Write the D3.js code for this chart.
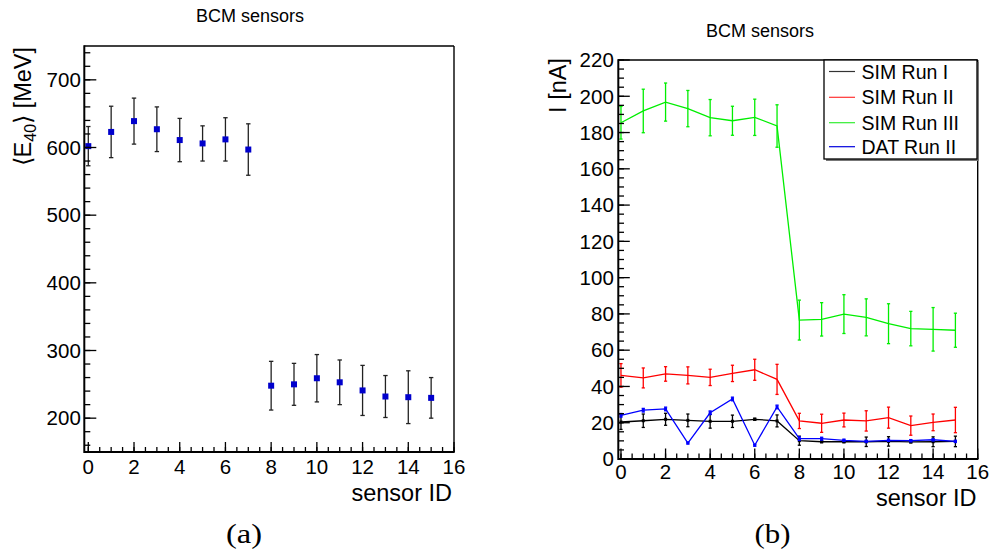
<!DOCTYPE html>
<html>
<head>
<meta charset="utf-8">
<script src="https://cdn.jsdelivr.net/npm/d3@7"></script>
<style>
  html, body { margin: 0; padding: 0; background: #fff; }
  svg text { font-family: "Liberation Sans", Arial, Helvetica, sans-serif; fill: #000; }
</style>
</head>
<body>
<svg id="chart" width="989" height="558"></svg>
<script>
// ---------------- data ----------------
const sensorIds = [0, 1, 2, 3, 4, 5, 6, 7, 8, 9, 10, 11, 12, 13, 14, 15];

// panel (a): mean energy <E40> [MeV]
const energyMean = [602, 623, 639, 627, 611, 606, 612, 597, 248, 250, 259, 253, 241, 232, 231, 230];
const energyErr  = [29, 38, 34, 33, 32, 26, 32, 38, 36, 31, 35, 33, 37, 31, 39, 30];

// panel (b): current I [nA]
const simRun1    = [20.4, 21.1, 21.9, 21.3, 20.8, 20.8, 21.9, 21.0, 10.1, 9.5, 9.5, 9.5, 9.7, 9.4, 9.5, 9.7];
const simRun1Err = [4.1, 3.7, 3.3, 3.5, 3.8, 3.4, 0.6, 3.3, 2.5, 0.5, 0.5, 2.6, 2.6, 0.5, 2.7, 2.9];
const simRun2    = [46.1, 44.7, 46.9, 46.1, 45.0, 47.2, 49.2, 43.9, 21.0, 19.7, 21.5, 21.0, 22.8, 18.4, 20.2, 21.5];
const simRun2Err = [6.5, 5.5, 4.0, 4.7, 4.5, 4.5, 5.8, 8.3, 4.2, 5.0, 3.8, 5.6, 5.8, 5.3, 4.6, 7.0];
const simRun3    = [185.4, 191.9, 196.8, 193.2, 188.2, 186.5, 188.4, 183.6, 76.6, 77.0, 79.9, 78.1, 74.6, 71.9, 71.5, 71.0];
const simRun3Err = [9.0, 12.0, 10.5, 10.0, 10.0, 8.0, 10.0, 11.7, 11.0, 9.2, 10.7, 10.2, 11.0, 9.5, 12.0, 9.4];
const datRun2    = [24.1, 26.9, 27.6, 8.8, 25.5, 33.1, 7.6, 28.7, 11.2, 11.2, 10.3, 9.7, 10.3, 10.1, 10.6, 9.7];
const datRun2Err = [1.0, 1.0, 1.0, 0.5, 1.0, 1.0, 0.5, 1.0, 1.0, 0.8, 0.6, 0.6, 0.6, 0.6, 0.6, 0.6];

const seriesNames = ["SIM Run I", "SIM Run II", "SIM Run III", "DAT Run II"];

const xTickValues = [0, 2, 4, 6, 8, 10, 12, 14, 16];
const leftYTickValues = [200, 300, 400, 500, 600, 700];
const rightYTickValues = [0, 20, 40, 60, 80, 100, 120, 140, 160, 180, 200, 220];

const titleText = "BCM sensors";
const xTitle = "sensor ID";

// ---------------- drawing ----------------
const svg = d3.select("#chart");

function frame(g, x, y, opts) {
  const [x0, x1] = x.range();
  const [y0, y1] = y.range(); // y0 bottom, y1 top
  g.append("line").attr("x1", x0).attr("x2", x1).attr("y1", y1).attr("y2", y1)
    .attr("stroke", "#000").attr("stroke-width", 1.4);
  g.append("line").attr("x1", x1).attr("x2", x1).attr("y1", y1).attr("y2", y0)
    .attr("stroke", "#000").attr("stroke-width", 1.4);
  g.selectAll(null).data(opts.xMinor).join("line")
    .attr("x1", d => x(d)).attr("x2", d => x(d))
    .attr("y1", y0).attr("y2", y0 - opts.xMinorLen)
    .attr("stroke", "#000").attr("stroke-width", 1.3);
  g.selectAll(null).data(opts.xMajor).join("line")
    .attr("x1", d => x(d)).attr("x2", d => x(d))
    .attr("y1", y0).attr("y2", y0 - opts.xMajorLen)
    .attr("stroke", "#000").attr("stroke-width", 1.3);
  g.selectAll(null).data(opts.yMinor).join("line")
    .attr("x1", x0).attr("x2", x0 + opts.yMinorLen)
    .attr("y1", d => y(d)).attr("y2", d => y(d))
    .attr("stroke", "#000").attr("stroke-width", 1.3);
  g.selectAll(null).data(opts.yMajor).join("line")
    .attr("x1", x0).attr("x2", x0 + opts.yMajorLen)
    .attr("y1", d => y(d)).attr("y2", d => y(d))
    .attr("stroke", "#000").attr("stroke-width", 1.3);
  g.append("line").attr("x1", x0).attr("x2", x1 + 0.7).attr("y1", y0).attr("y2", y0)
    .attr("stroke", "#000").attr("stroke-width", 2);
  g.append("line").attr("x1", x0).attr("x2", x0).attr("y1", y1 - 0.7).attr("y2", y0 + 1)
    .attr("stroke", "#000").attr("stroke-width", 2);
  g.selectAll(null).data(opts.xMajor).join("text")
    .attr("x", d => x(d)).attr("y", y0 + opts.xLabelOff)
    .attr("text-anchor", "middle").attr("font-size", 20.5)
    .text(d => d);
  g.selectAll(null).data(opts.yMajor).join("text")
    .attr("x", x0 - opts.yLabelOff).attr("y", d => y(d) + 7.3)
    .attr("text-anchor", "end").attr("font-size", 20.5)
    .text(d => d);
}

function errorBars(g, x, y, vals, errs, color, cap, width) {
  const data = sensorIds.map((s, i) => ({ s, v: vals[i], e: errs[i] }));
  g.selectAll(null).data(data).join("line")
    .attr("x1", d => x(d.s)).attr("x2", d => x(d.s))
    .attr("y1", d => y(d.v - d.e)).attr("y2", d => y(d.v + d.e))
    .attr("stroke", color).attr("stroke-width", width);
  ["-", "+"].forEach(sign => {
    g.selectAll(null).data(data).join("line")
      .attr("x1", d => x(d.s) - cap).attr("x2", d => x(d.s) + cap)
      .attr("y1", d => y(sign === "-" ? d.v - d.e : d.v + d.e))
      .attr("y2", d => y(sign === "-" ? d.v - d.e : d.v + d.e))
      .attr("stroke", color).attr("stroke-width", width);
  });
}

function caption(txt, cx) {
  svg.append("text").attr("x", cx - 18).attr("y", 543)
    .style("font-family", "'Liberation Serif', 'DejaVu Serif', serif")
    .attr("font-size", 27).attr("textLength", 36).attr("lengthAdjust", "spacingAndGlyphs")
    .text(txt);
}

// ---- panel (a) ----
{
  const x = d3.scaleLinear().domain([-0.175, 16]).range([84.3, 454]);
  const y = d3.scaleLinear().domain([150, 750]).range([452, 46]);
  const g = svg.append("g");

  errorBars(g, x, y, energyMean, energyErr, "#222", 2.2, 1.3);
  g.selectAll(null).data(sensorIds).join("rect")
    .attr("x", d => x(d) - 3).attr("y", (d, i) => y(energyMean[i]) - 3)
    .attr("width", 6).attr("height", 6).attr("fill", "#0000cc");

  frame(g, x, y, {
    xMajor: xTickValues, xMinor: d3.range(0, 16.01, 0.5),
    yMajor: leftYTickValues, yMinor: d3.range(160, 750.1, 20),
    xMajorLen: 10, xMinorLen: 5, yMajorLen: 12, yMinorLen: 6,
    xLabelOff: 21.5, yLabelOff: 3.5
  });

  svg.append("text").attr("x", 250).attr("y", 21.5).attr("text-anchor", "middle")
    .attr("font-size", 18).text(titleText);
  svg.append("text").attr("x", 452).attr("y", 501).attr("text-anchor", "end")
    .attr("font-size", 23.5).text(xTitle);
  const yt = svg.append("text").attr("transform", "translate(31,47) rotate(-90)")
    .attr("text-anchor", "end").attr("font-size", 23.5);
  yt.append("tspan").text("\u27E8E");
  yt.append("tspan").attr("font-size", 16).attr("dy", 5).text("40");
  yt.append("tspan").attr("dy", -5).text("\u27E9 [MeV]");

  caption("(a)", 244);
}

// ---- panel (b) ----
{
  const x = d3.scaleLinear().domain([-0.12, 16]).range([618.3, 977.7]);
  const y = d3.scaleLinear().domain([0, 220]).range([459, 60]);
  const g = svg.append("g");
  const line = d3.line().x((d, i) => x(sensorIds[i])).y(d => y(d));

  const series = [
    { vals: simRun3, errs: simRun3Err, color: "#00ee00", marker: false },
    { vals: simRun2, errs: simRun2Err, color: "#ff0000", marker: false },
    { vals: simRun1, errs: simRun1Err, color: "#000000", marker: true },
    { vals: datRun2, errs: datRun2Err, color: "#0000ff", marker: true }
  ];
  series.forEach(s => {
    g.append("path").attr("d", line(s.vals)).attr("fill", "none")
      .attr("stroke", s.color).attr("stroke-width", 1.3);
    errorBars(g, x, y, s.vals, s.errs, s.color, 1.6, 1.3);
    if (s.marker) {
      g.selectAll(null).data(s.vals).join("rect")
        .attr("x", (d, i) => x(sensorIds[i]) - 1.5).attr("y", d => y(d) - 1.5)
        .attr("width", 3).attr("height", 3).attr("fill", s.color);
    }
  });

  frame(g, x, y, {
    xMajor: xTickValues, xMinor: d3.range(0, 16.01, 0.5),
    yMajor: rightYTickValues, yMinor: d3.range(0, 220.1, 5),
    xMajorLen: 10.5, xMinorLen: 5.5, yMajorLen: 11.5, yMinorLen: 5.7,
    xLabelOff: 19.5, yLabelOff: 4.5
  });

  const lg = svg.append("g");
  const lx0 = 824, ly0 = 60, lw = 153, lh = 99;
  lg.append("rect").attr("x", lx0 + 2).attr("y", ly0 + 2).attr("width", lw).attr("height", lh)
    .attr("fill", "#777");
  lg.append("rect").attr("x", lx0).attr("y", ly0).attr("width", lw).attr("height", lh)
    .attr("fill", "#fff").attr("stroke", "#000").attr("stroke-width", 1.3);
  const legColors = ["#333333", "#ff3333", "#33ee33", "#0000dd"];
  const rowY = [71.5, 97.3, 122.7, 146.7];
  seriesNames.forEach((n, i) => {
    lg.append("line").attr("x1", 829).attr("x2", 855).attr("y1", rowY[i]).attr("y2", rowY[i])
      .attr("stroke", legColors[i]).attr("stroke-width", 1.2);
    lg.append("text").attr("x", 861.5).attr("y", rowY[i] + 7).attr("font-size", 19.5).text(n);
  });

  svg.append("text").attr("x", 760).attr("y", 36.5).attr("text-anchor", "middle")
    .attr("font-size", 18).text(titleText);
  svg.append("text").attr("x", 976.5).attr("y", 506).attr("text-anchor", "end")
    .attr("font-size", 23.5).text(xTitle);
  svg.append("text").attr("transform", "translate(566,58) rotate(-90)")
    .attr("text-anchor", "end").attr("font-size", 23.5).text("I [nA]");

  caption("(b)", 772.5);
}
</script>
</body>
</html>
